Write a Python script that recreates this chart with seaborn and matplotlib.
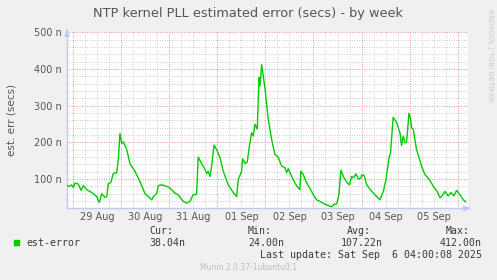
import matplotlib
matplotlib.use("Agg")
import matplotlib.pyplot as plt
import seaborn as sns
import pandas as pd
import numpy as np

# hours since 29 Aug 00:00
hours = [-3.3, -1.65, -0.8, 0, 0.85, 2.5, 3.85, 5.0, 6.7, 9.2, 11.7, 13.0, 14.2, 15.8, 16.7,
         17.5, 18.7, 20.0, 21.7, 22.5, 23.3, 24.2, 25.0, 26.7, 28.3, 30.8, 33.3, 35.8, 38.3,
         39.2, 40.0, 41.7, 42.5, 44.2, 46.7, 48.3, 50.8, 52.4, 54.9, 56.6, 58.3, 59.9, 61.6,
         62.4, 64.1, 65.8, 66.6, 67.4, 68.3, 69.1, 70.3, 71.6, 73.3, 74.9, 77.4, 79.9, 81.6,
         82.4, 84.1, 84.6, 85.8, 86.9, 87.9, 89.1, 89.9, 90.8, 91.9, 92.8, 93.3, 94.1, 95.8,
         97.4, 99.1, 100.7, 102.4, 104.1, 105.7, 106.6, 107.4, 109.1, 110.7, 112.4, 113.2,
         113.7, 114.9, 116.6, 118.2, 119.9, 121.6, 124.1, 126.6, 129.1, 130.2, 131.6, 132.7,
         133.7, 134.9, 136.6, 137.9, 139.1, 139.9, 141.2, 142.4, 143.6, 144.1, 145.3, 146.6,
         149.1, 151.6, 153.2, 154.9, 156.2, 157.8, 158.5, 159.8, 161.5, 163.2, 164.0, 164.8,
         165.7, 166.5, 167.7, 168.5, 169.0, 169.8, 171.5, 174.0, 175.7, 178.2, 179.8, 181.5,
         183.2, 184.0, 185.7, 187.3, 188.7, 190.2, 191.5, 193.2, 194.9, 196.0]
est_error = [82, 80, 84, 77, 89, 86, 69, 82, 71, 63, 52, 36, 60, 50, 52,
             87, 90, 115, 117, 153, 224, 197, 201, 180, 142, 121, 93, 60, 48,
             43, 52, 61, 82, 84, 80, 75, 61, 57, 39, 34, 39, 57, 58,
             160, 142, 126, 115, 121, 107, 135, 192, 180, 158, 121, 84, 63, 52,
             98, 121, 155, 142, 146, 187, 226, 217, 249, 236, 377, 354, 412, 345,
             263, 208, 167, 159, 135, 131, 117, 128, 107, 89, 75, 71,
             121, 112, 89, 75, 57, 43, 36, 29, 24, 31, 32, 57,
             124, 107, 91, 84, 107, 103, 114, 100, 102, 111, 110, 84,
             66, 52, 43, 66, 98, 160, 171, 268, 254, 226, 191, 217,
             199, 199, 279, 263, 240, 236, 180, 135, 112, 96, 80, 69,
             49, 52, 66, 54, 63, 54, 69, 57, 43, 38]

day_labels = ["29 Aug", "30 Aug", "31 Aug", "01 Sep", "02 Sep", "03 Sep", "04 Sep", "05 Sep"]
y_ticks = [100, 200, 300, 400, 500]
y_tick_labels = ["100 n", "200 n", "300 n", "400 n", "500 n"]

title = "NTP kernel PLL estimated error (secs) - by week"
y_label = "est. err (secs)"
series_name = "est-error"
stat_names = ["Cur:", "Min:", "Avg:", "Max:"]
stat_values = ["38.04n", "24.00n", "107.22n", "412.00n"]
last_update = "Last update: Sat Sep  6 04:00:08 2025"
footer = "Munin 2.0.37-1ubuntu0.1"
side_text = "RRDTOOL / TOBI OETIKER"

df = pd.DataFrame({"hours": hours, "value": est_error})

W, H = 497, 280
BG = "#F0F0F0"
TXT = "#555555"
fig = plt.figure(figsize=(W / 100, H / 100), dpi=100, facecolor=BG)
L, R, T, B = 67, 468, 32.3, 208.3
ax = fig.add_axes([L / W, 1 - B / H, (R - L) / W, (B - T) / H])
ax.set_facecolor("white")

xmin, xmax = -3.15, 197.2
ax.set_xlim(xmin, xmax)
ax.set_ylim(20, 500)

# grids
gray = "#CCCCCC"
red = "#E89090"
for h in np.arange(6, 198, 6):
    if h % 24 != 0:
        ax.axvline(h, color=gray, lw=0.7, ls=(0, (1, 1.5)), zorder=1)
for v in np.arange(40, 500, 20):
    if v % 100 != 0:
        ax.axhline(v, color=gray, lw=0.7, ls=(0, (1, 1.5)), zorder=1)
for h in np.arange(0, 198, 24):
    ax.axvline(h, color=red, lw=0.7, ls=(0, (1, 1.5)), zorder=2)
for v in y_ticks:
    ax.axhline(v, color=red, lw=0.7, ls=(0, (1, 1.5)), zorder=2)

sns.lineplot(data=df, x="hours", y="value", ax=ax, color="#00CC00", lw=1.0, zorder=5)

ax.set_xticks([12 + 24 * i for i in range(len(day_labels))])
ax.set_xticklabels(day_labels)
ax.set_yticks(y_ticks)
ax.set_yticklabels(y_tick_labels)
ax.tick_params(axis="both", length=0, labelsize=7, labelcolor=TXT, pad=4)
ax.tick_params(axis="x", pad=3)
ax.set_xlabel("")
ax.set_ylabel("")
for s in ["top", "right"]:
    ax.spines[s].set_visible(False)
axis_c = "#C0C8F4"
ax.spines["left"].set_color(axis_c)
ax.spines["bottom"].set_color(axis_c)
ax.spines["left"].set_linewidth(1)
ax.spines["bottom"].set_linewidth(1)
# arrows
ax.annotate("", xy=(L / W, 1 - 26 / H), xytext=(L / W, 1 - 33 / H), xycoords="figure fraction",
            arrowprops=dict(arrowstyle="-|>,head_width=0.15,head_length=0.4", color=axis_c, lw=1))
ax.annotate("", xy=(474 / W, 1 - B / H), xytext=(466 / W, 1 - B / H), xycoords="figure fraction",
            arrowprops=dict(arrowstyle="-|>,head_width=0.15,head_length=0.4", color=axis_c, lw=1))

def ft(x, y, s, **kw):
    fig.text(x / W, 1 - y / H, s, **kw)

ft(248, 14, title, ha="center", va="center", fontsize=9.3, color=TXT)
ft(12, 120, y_label, ha="center", va="center", rotation=90, fontsize=7.5, color=TXT)
ft(490, 55, side_text, ha="center", va="center", rotation=270, fontsize=5.2, color="#C8C8C8")

mono = "DejaVu Sans Mono"
fig.patches.append(matplotlib.patches.Rectangle((14 / W, 1 - 245 / H), 5 / W, 5 / H,
                   transform=fig.transFigure, color="#00CC00", figure=fig))
LEG = "#3A3A3A"
ft(26, 242.5, series_name, ha="left", va="center", family=mono, fontsize=7.1, color=LEG)
stat_x = [185, 284, 383, 482]
for sx, n, v in zip(stat_x, stat_names, stat_values):
    ft(sx - 12, 231.5, n, ha="right", va="center", family=mono, fontsize=7.1, color=LEG)
    ft(sx, 242.5, v, ha="right", va="center", family=mono, fontsize=7.1, color=LEG)
ft(482, 254.5, last_update, ha="right", va="center", family=mono, fontsize=7.1, color=LEG)
ft(248, 268, footer, ha="center", va="center", fontsize=5.5, color="#BBBBBB")

fig.savefig("out.png", dpi=100, facecolor=BG)
